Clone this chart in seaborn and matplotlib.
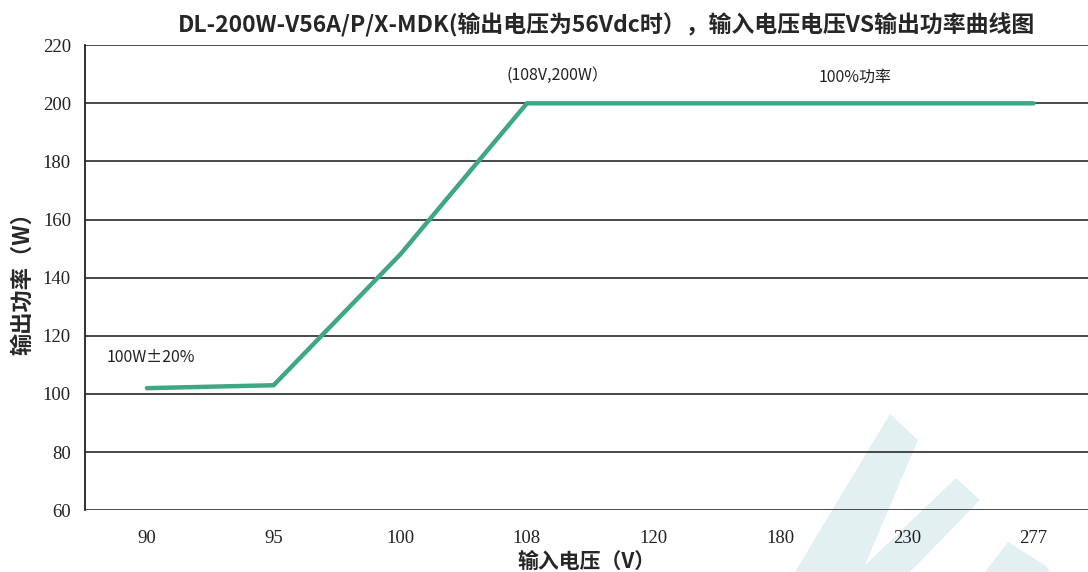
import matplotlib
matplotlib.use('Agg')
import matplotlib.pyplot as plt
import seaborn as sns
import pandas as pd
from matplotlib.patches import Polygon

# data
voltage_labels = ['90', '95', '100', '108', '120', '180', '230', '277']
power_w = [102, 103, 148, 200, 200, 200, 200, 200]
y_ticks = [60, 80, 100, 120, 140, 160, 180, 200, 220]

title = 'DL-200W-V56A/P/X-MDK(输出电压为56Vdc时），输入电压电压VS输出功率曲线图'
xlabel = '输入电压（V）'
ylabel = '输出功率（W）'

df = pd.DataFrame({'voltage': voltage_labels, 'power': power_w})

sns.set_theme(style='white')
plt.rcParams['font.family'] = ['Noto Sans CJK SC', 'DejaVu Sans']

W, H = 1088, 572
fig = plt.figure(figsize=(W / 100, H / 100), dpi=100)

# light watermark stripes behind the plot (pixel outlines -> figure fraction)
wm = '#e2f0f2'
stripes = [
    [(795, 572), (862, 572), (918, 440), (890, 414)],
    [(858, 572), (910, 572), (980, 500), (956, 478)],
    [(985, 572), (1050, 572), (1046, 566), (1008, 542)],
]
for pts in stripes:
    fpts = [(x / W, 1 - y / H) for x, y in pts]
    fig.add_artist(Polygon(fpts, closed=True, transform=fig.transFigure,
                           facecolor=wm, edgecolor='none', zorder=0))

ax = fig.add_axes([0.078, 0.108, 0.922, 0.813])
ax.patch.set_alpha(0)

sns.lineplot(data=df, x='voltage', y='power', sort=False, ax=ax,
             color='#3fa784', linewidth=3.2, zorder=3)

ax.set_ylim(60, 220)
ax.set_xlim(-0.49, 7.43)
ax.set_yticks(y_ticks)
for v in y_ticks:
    ax.axhline(v, color='#3a3a3a', linewidth=1.3, zorder=1)

for s in ['top', 'right', 'bottom']:
    ax.spines[s].set_visible(False)
ax.spines['left'].set_color('#222222')
ax.spines['left'].set_linewidth(1.3)
ax.tick_params(axis='both', length=0, labelsize=13.5, colors='#222222')
ax.tick_params(axis='y', pad=10)
ax.tick_params(axis='x', pad=14)
for lab in ax.get_xticklabels() + ax.get_yticklabels():
    lab.set_family(['Liberation Serif', 'DejaVu Serif'])

ax.set_xlabel(xlabel, fontsize=15, fontweight='bold', labelpad=3)
ax.set_ylabel(ylabel, fontsize=16, fontweight='bold', labelpad=6)
ax.set_title(title, fontsize=16.5, fontweight='bold', pad=9, x=0.52)

ax.text(2.84, 209.5, '(108V,200W）', fontsize=11.5, va='center', ha='left', color='#222222')
ax.text(5.59, 209.0, '100%功率', fontsize=11.5, va='center', ha='center', color='#222222')
ax.text(-0.32, 112.5, '100W±20%', fontsize=11.5, va='center', ha='left', color='#222222')

fig.savefig('out.png', dpi=100)
